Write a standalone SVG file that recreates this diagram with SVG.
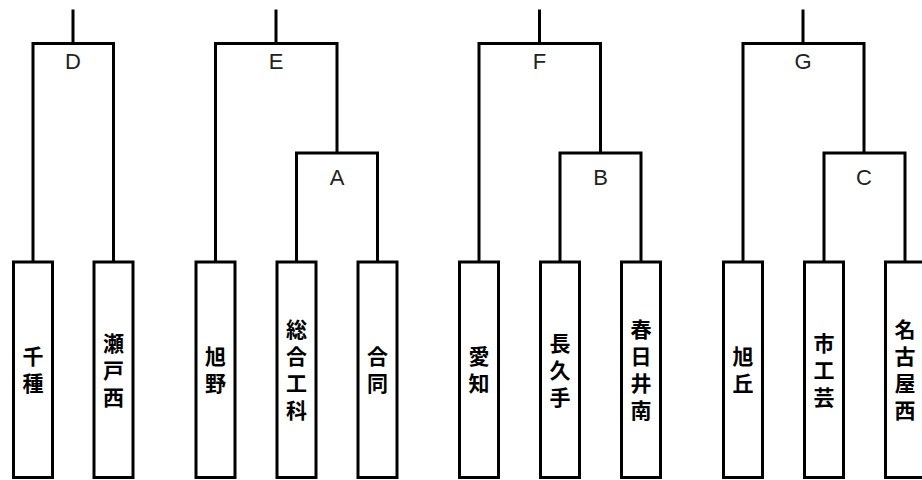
<svg xmlns="http://www.w3.org/2000/svg" width="922" height="480" viewBox="0 0 922 480">
<style>
.ln{fill:none;stroke:#000;stroke-width:3;stroke-linecap:square;stroke-linejoin:miter}
.bx{fill:#fff;stroke:#000;stroke-width:3}
.nm{font-family:"Noto Sans CJK JP","Noto Sans CJK SC",sans-serif;font-weight:bold;font-size:21px;fill:#000;text-anchor:middle;writing-mode:vertical-rl;letter-spacing:6px}
.lb{font-family:"Liberation Sans",Arial,sans-serif;font-size:22px;fill:#222;text-anchor:middle}
</style>
<rect width="922" height="480" fill="#fff"/>
<g id="connectors">
<path class="ln" d="M73 11V43.5M33 262V43.5H113.5V262"/>
<path class="ln" d="M276 11V43.5M215.5 262V43.5H337V153M296.5 262V153H377.5V262"/>
<path class="ln" d="M539.5 11V43.5M479 262V43.5H600.5V153M560 262V153H641V262"/>
<path class="ln" d="M803 11V43.5M743 262V43.5H864V153M824 262V153H905V262"/>
</g>
<g id="labels">
<text class="lb" x="73" y="69">D</text>
<text class="lb" x="276" y="69">E</text>
<text class="lb" x="337" y="185">A</text>
<text class="lb" x="539.5" y="69">F</text>
<text class="lb" x="600.5" y="185">B</text>
<text class="lb" x="803" y="69">G</text>
<text class="lb" x="864" y="185">C</text>
</g>
<g id="n1"><rect class="bx" x="13.5" y="262" width="39" height="215.5"/><text class="nm" x="33" y="373">千種</text></g>
<g id="n2"><rect class="bx" x="94" y="262" width="39" height="215.5"/><text class="nm" x="113.5" y="373">瀬戸西</text></g>
<g id="n3"><rect class="bx" x="196" y="262" width="39" height="215.5"/><text class="nm" x="215.5" y="373">旭野</text></g>
<g id="n4"><rect class="bx" x="277" y="262" width="39" height="215.5"/><text class="nm" x="296.5" y="373">総合工科</text></g>
<g id="n5"><rect class="bx" x="358" y="262" width="39" height="215.5"/><text class="nm" x="377.5" y="373">合同</text></g>
<g id="n6"><rect class="bx" x="459.5" y="262" width="39" height="215.5"/><text class="nm" x="479" y="373">愛知</text></g>
<g id="n7"><rect class="bx" x="540.5" y="262" width="39" height="215.5"/><text class="nm" x="560" y="373">長久手</text></g>
<g id="n8"><rect class="bx" x="621.5" y="262" width="39" height="215.5"/><text class="nm" x="641" y="373">春日井南</text></g>
<g id="n9"><rect class="bx" x="723.5" y="262" width="39" height="215.5"/><text class="nm" x="743" y="373">旭丘</text></g>
<g id="n10"><rect class="bx" x="804.5" y="262" width="39" height="215.5"/><text class="nm" x="824" y="373">市工芸</text></g>
<g id="n11"><rect class="bx" x="885.5" y="262" width="39" height="215.5"/><text class="nm" x="905" y="373">名古屋西</text></g>
</svg>
